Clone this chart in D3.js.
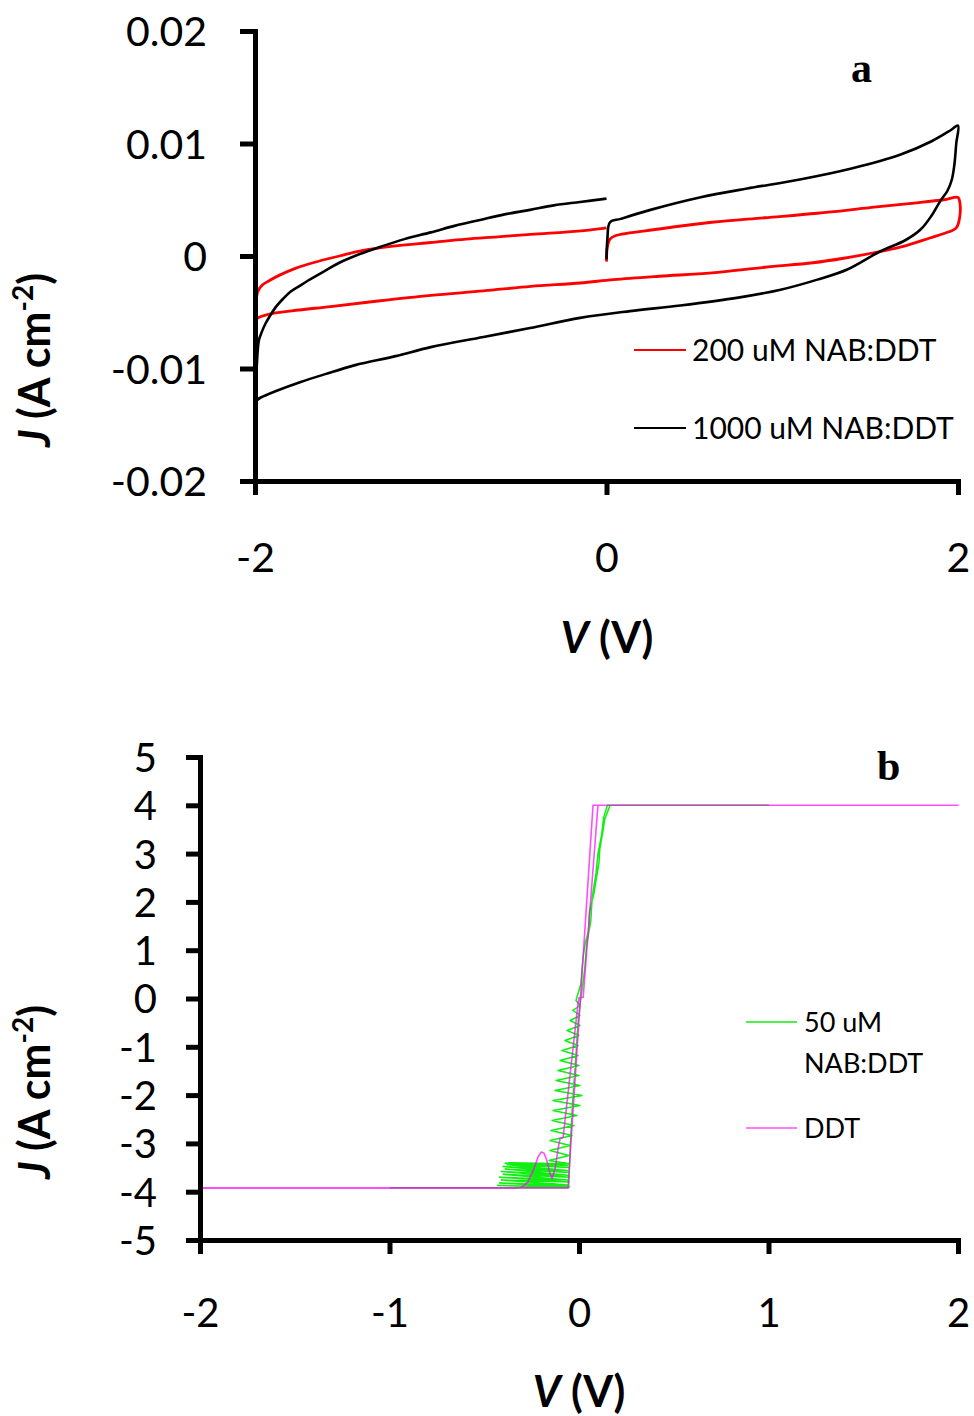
<!DOCTYPE html>
<html>
<head>
<meta charset="utf-8">
<script src="https://cdn.jsdelivr.net/npm/d3@7"></script>
<style>
  body { margin: 0; background: #fff; }
  svg { display: block; }
</style>
</head>
<body>
<svg id="chart" width="974" height="1416"></svg>
<script>
// ---------- Panel a: J–V sweeps of NAB:DDT films ----------
const voltageTicksA = [-2, 0, 2];
const currentTicksA = [-0.02, -0.01, 0, 0.01, 0.02];
const currentTickLabelsA = ["-0.02", "-0.01", "0", "0.01", "0.02"];
const seriesNamesA = ["200 uM NAB:DDT", "1000 uM NAB:DDT"];
const seriesColorsA = ["#ff0000", "#000000"];

// [V, J] in volts and A cm^-2, in sweep order
const sweep200uM = [
  [0.00,-0.0005],[0.005,0.0008],[0.02,0.0015],[0.05,0.0018],[0.3,0.0024],[0.6,0.0030],
  [0.9,0.0034],[1.2,0.0038],[1.5,0.0043],[1.75,0.0047],[1.92,0.0050],[2.00,0.0052],
  [2.01,0.0048],[2.01,0.0035],[1.99,0.0025],[1.92,0.0020],[1.84,0.0016],[1.7,0.0009],
  [1.556,0.0004],[1.35,-0.0002],[1.175,-0.0006],[0.9,-0.0010],[0.6,-0.0015],[0.3,-0.0018],
  [0.04,-0.0021],[-0.15,-0.0024],[-0.43,-0.0027],[-0.7,-0.0031],[-1.0,-0.0035],[-1.3,-0.0040],
  [-1.57,-0.0045],[-1.75,-0.0048],[-1.9,-0.0051],[-1.97,-0.0054],[-2.0,-0.0056],
  [-1.995,-0.0045],[-1.985,-0.0032],[-1.96,-0.0026],[-1.92,-0.0022],[-1.86,-0.0017],
  [-1.77,-0.0011],[-1.67,-0.0006],[-1.52,0.0000],[-1.385,0.0005],[-1.2,0.0009],[-1.0,0.0012],
  [-0.8,0.0015],[-0.62,0.0017],[-0.45,0.0019],[-0.25,0.0021],[-0.1,0.0023],[0.0,0.0025]
];
const sweep1000uM = [
  [0.00,-0.0003],[0.005,0.0015],[0.02,0.0030],[0.08,0.0033],[0.25,0.0041],[0.53,0.0052],
  [0.8,0.0060],[1.1,0.0068],[1.4,0.0078],[1.67,0.0090],[1.85,0.0102],[1.96,0.0112],[2.0,0.0116],
  [1.99,0.0100],[1.98,0.0082],[1.965,0.0068],[1.94,0.0058],[1.9,0.0049],[1.85,0.0036],
  [1.79,0.0024],[1.7,0.0014],[1.556,0.0004],[1.37,-0.0012],[1.2,-0.0021],[0.99,-0.0030],
  [0.75,-0.0037],[0.42,-0.0044],[0.134,-0.0049],[-0.15,-0.0055],[-0.435,-0.0064],
  [-0.7,-0.0072],[-1.0,-0.0081],[-1.2,-0.0089],[-1.43,-0.0097],[-1.6,-0.0105],[-1.74,-0.0112],
  [-1.88,-0.0120],[-1.97,-0.0126],[-2.0,-0.0129],
  [-1.995,-0.0112],[-1.99,-0.0098],[-1.985,-0.0085],[-1.978,-0.0075],[-1.96,-0.0067],
  [-1.94,-0.0060],[-1.91,-0.0052],[-1.88,-0.0045],[-1.84,-0.0038],[-1.8,-0.0032],
  [-1.75,-0.0027],[-1.7,-0.0022],[-1.6,-0.0013],[-1.52,-0.0006],[-1.4,0.0002],[-1.29,0.0008],
  [-1.15,0.0015],[-1.0,0.0021],[-0.86,0.0027],[-0.72,0.0032],[-0.58,0.0037],[-0.435,0.0041],
  [-0.3,0.0045],[-0.15,0.0048],[0.0,0.0051]
];

// ---------- Panel b: J–V sweeps, DDT vs 50 uM NAB:DDT ----------
const voltageTicksB = [-2, -1, 0, 1, 2];
const currentTicksB = [-5, -4, -3, -2, -1, 0, 1, 2, 3, 4, 5];
const seriesNamesB = [["50 uM", "NAB:DDT"], ["DDT"]];
const seriesColorsB = ["#11ee11", "#ff00ff"];

const sweep50uM = [
  [-1.0,-3.92],[-0.42,-3.92],
  [-0.06,-3.92],[-0.43,-3.87],[-0.05,-3.90],[-0.42,-3.82],[-0.06,-3.86],[-0.41,-3.76],
  [-0.05,-3.80],[-0.42,-3.70],[-0.06,-3.76],[-0.40,-3.64],[-0.05,-3.70],[-0.41,-3.58],
  [-0.06,-3.66],[-0.39,-3.53],[-0.05,-3.60],[-0.40,-3.48],[-0.06,-3.56],[-0.38,-3.44],
  [-0.05,-3.50],[-0.39,-3.41],[-0.06,-3.46],[-0.37,-3.40],[-0.05,-3.42],
  [-0.158,-3.354],[-0.053,-3.25],[-0.153,-3.147],[-0.047,-3.043],[-0.153,-2.94],[-0.037,-2.836],
  [-0.148,-2.733],[-0.026,-2.629],[-0.142,-2.526],[-0.011,-2.422],[-0.137,-2.319],[0.005,-2.215],
  [-0.137,-2.112],[0.016,-2.008],[-0.127,-1.905],[0.005,-1.801],[-0.121,-1.698],[0.0,-1.594],
  [-0.111,-1.491],[0.0,-1.387],[-0.1,-1.284],[-0.005,-1.18],[-0.09,-1.077],[-0.005,-0.973],
  [-0.074,-0.87],[0.0,-0.766],[-0.063,-0.663],[0.005,-0.559],[-0.047,-0.455],[0.005,-0.352],
  [-0.032,-0.248],[0.005,-0.145],[-0.016,-0.041],
  [0.01,0.3],[0.02,0.8],[0.03,1.1],[0.05,1.4],[0.055,1.8],[0.08,2.2],[0.09,2.45],[0.105,2.8],
  [0.11,3.1],[0.127,3.48],[0.135,3.7],[0.164,4.0],[1.0,4.0],
  [0.15,4.0],[0.13,3.75],[0.12,3.4],[0.1,3.0],[0.09,2.6],[0.07,2.1],[0.062,1.6],[0.04,1.1],
  [0.03,0.6],[0.01,0.0],[-0.005,-0.5],[-0.02,-1.4],[-0.035,-2.2],[-0.045,-3.0],[-0.055,-3.92],
  [-1.0,-3.92]
];
const sweepDDT = [
  [-2.0,-3.92],[-0.058,-3.92],[0.074,4.0],[2.0,4.0],[0.10,4.0],[0.022,0.02],[0.0,0.02],
  [-0.005,-0.1],[-0.084,-2.88],[-0.1,-2.9],[-0.11,-3.1],[-0.125,-3.5],[-0.142,-3.73],
  [-0.155,-3.6],[-0.17,-3.35],[-0.185,-3.2],[-0.2,-3.18],[-0.215,-3.27],[-0.24,-3.55],
  [-0.27,-3.8],[-0.3,-3.9],[-0.32,-3.93],[-2.0,-3.93]
];

// ---------- drawing ----------
const svg = d3.select("#chart");
const FONT = "Lato, 'Open Sans', sans-serif";
const plain = d => String(d);   // keeps ASCII hyphen for negatives

function styleAxis(g, fontSize) {
  g.select(".domain").attr("stroke", "#000").attr("stroke-width", 5).attr("stroke-linecap", "square");
  g.selectAll(".tick line").attr("stroke", "#000").attr("stroke-width", 5);
  g.selectAll(".tick text").attr("fill", "#000").attr("font-family", FONT).attr("font-size", fontSize);
}

function yTitle(x, y) {
  const t = svg.append("text")
    .attr("transform", `translate(${x},${y}) rotate(-90)`)
    .attr("text-anchor", "middle")
    .attr("font-family", FONT).attr("font-weight", "bold").attr("font-size", 43);
  t.append("tspan").attr("font-style", "italic").text("J");
  t.append("tspan").text(" (A cm");
  t.append("tspan").attr("font-size", 28).attr("dy", -17).text("-2");
  t.append("tspan").attr("dy", 17).text(")");
}

function xTitle(x, y) {
  const t = svg.append("text")
    .attr("x", x).attr("y", y).attr("text-anchor", "middle")
    .attr("font-family", FONT).attr("font-weight", "bold").attr("font-size", 43);
  t.append("tspan").attr("font-style", "italic").text("V");
  t.append("tspan").text(" (V)");
}

// Panel a
const xA = d3.scaleLinear().domain([-2, 2]).range([255, 958]);
const yA = d3.scaleLinear().domain([-0.02, 0.02]).range([481, 31]);

const lineA = d3.line().x(d => xA(d[0])).y(d => yA(d[1])).curve(d3.curveCatmullRom.alpha(0.5));
[sweep200uM, sweep1000uM].forEach((s, i) => {
  svg.append("path").datum(s).attr("d", lineA)
    .attr("fill", "none").attr("stroke", seriesColorsA[i])
    .attr("stroke-width", i === 0 ? 2.8 : 2.6).attr("stroke-linejoin", "round");
});

const axAy = svg.append("g").attr("transform", `translate(${xA(-2)},0)`)
  .call(d3.axisLeft(yA).tickValues(currentTicksA).tickFormat((d, i) => currentTickLabelsA[i])
    .tickSize(15).tickSizeOuter(0).tickPadding(33));
styleAxis(axAy, 41);
axAy.selectAll(".tick text").attr("dy", "0.36em");

const axAx = svg.append("g").attr("transform", `translate(0,${yA(-0.02)})`)
  .call(d3.axisBottom(xA).tickValues(voltageTicksA).tickFormat(plain)
    .tickSize(14).tickSizeOuter(0));
styleAxis(axAx, 41);
axAx.selectAll(".tick text").attr("y", 76).attr("dy", "0.36em");

yTitle(50, 360);
xTitle(607, 653);
svg.append("text").attr("x", 851).attr("y", 82)
  .attr("font-family", "'Liberation Serif', 'Times New Roman', serif")
  .attr("font-weight", "bold").attr("font-size", 42).text("a");

const legA = [350, 428];
seriesNamesA.forEach((name, i) => {
  svg.append("line").attr("x1", 634).attr("x2", 686).attr("y1", legA[i]).attr("y2", legA[i])
    .attr("stroke", seriesColorsA[i]).attr("stroke-width", 2);
  svg.append("text").attr("x", 692).attr("y", legA[i]).attr("dy", "0.36em")
    .attr("font-family", FONT).attr("font-size", 30).attr("fill", "#000").text(name);
});

// Panel b
const xB = d3.scaleLinear().domain([-2, 2]).range([200, 958]);
const yB = d3.scaleLinear().domain([-5, 5]).range([1240, 757]);

const lineB = d3.line().x(d => xB(d[0])).y(d => yB(d[1]));
svg.append("path").datum(sweep50uM).attr("d", lineB)
  .attr("fill", "none").attr("stroke", seriesColorsB[0]).attr("stroke-width", 1.5)
  .attr("stroke-linejoin", "round");
svg.append("path").datum(sweepDDT).attr("d", lineB)
  .attr("fill", "none").attr("stroke", seriesColorsB[1]).attr("stroke-width", 1.6)
  .attr("stroke-opacity", 0.7).attr("stroke-linejoin", "round");

const axBy = svg.append("g").attr("transform", `translate(${xB(-2)},0)`)
  .call(d3.axisLeft(yB).tickValues(currentTicksB).tickFormat(plain)
    .tickSize(14).tickSizeOuter(0).tickPadding(29));
styleAxis(axBy, 40);
axBy.selectAll(".tick text").attr("dy", "0.36em");

const axBx = svg.append("g").attr("transform", `translate(0,${yB(-5)})`)
  .call(d3.axisBottom(xB).tickValues(voltageTicksB).tickFormat(plain)
    .tickSize(14).tickSizeOuter(0));
styleAxis(axBx, 40);
axBx.selectAll(".tick text").attr("y", 73).attr("dy", "0.36em");

yTitle(50, 1092);
xTitle(579, 1407);
svg.append("text").attr("x", 877).attr("y", 780)
  .attr("font-family", "'Liberation Serif', 'Times New Roman', serif")
  .attr("font-weight", "bold").attr("font-size", 42).text("b");

// legend b
const legB = [1022, 1128];
seriesNamesB.forEach((lines, i) => {
  svg.append("line").attr("x1", 746).attr("x2", 797).attr("y1", legB[i]).attr("y2", legB[i])
    .attr("stroke", seriesColorsB[i]).attr("stroke-width", 1.6)
    .attr("stroke-opacity", i === 1 ? 0.7 : 1);
  lines.forEach((txt, j) => {
    svg.append("text").attr("x", 804).attr("y", legB[i] + j * 41).attr("dy", "0.36em")
      .attr("font-family", FONT).attr("font-size", 27).attr("fill", "#000").text(txt);
  });
});
</script>
</body>
</html>
